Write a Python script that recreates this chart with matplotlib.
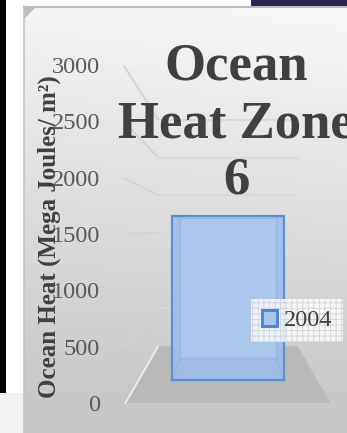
import matplotlib
matplotlib.use("Agg")
import matplotlib.pyplot as plt
import numpy as np
from matplotlib.patches import Polygon, Rectangle, Patch

# ---- data ----
years = ["2004"]
heat = [1680]
ticks = [0, 500, 1000, 1500, 2000, 2500, 3000]
title_lines = ["Ocean", "Heat Zone", "6"]
ylabel = "Ocean Heat (Mega Joules/ m²)"

SERIF = ["Liberation Serif", "DejaVu Serif"]
plt.rcParams["hatch.linewidth"] = 0.7
W, H = 347, 433
DPI = 100
fig = plt.figure(figsize=(W / DPI, H / DPI), dpi=DPI)
fig.patch.set_facecolor("white")


def fx(px):
    return px / W


def fy(py):
    return 1 - py / H


# ---- slide backdrop and chart panel (pixel coordinates) ----
bg = fig.add_axes([0, 0, 1, 1])
bg.axis("off")
gy = np.linspace(0, 1, 300)[:, None]
gx = np.linspace(0, 1, 300)[None, :]
shade = 0.955 - 0.185 * gy + 0.02 * gx * (1 - gy)
bg.imshow(np.dstack([shade] * 3), extent=(24, W, H, 6), aspect="auto",
          interpolation="bilinear")
bg.set_xlim(0, W)
bg.set_ylim(H, 0)
bg.add_patch(Rectangle((0, 0), 6, 393, color="black", lw=0))
bg.add_patch(Rectangle((251, 0), 96, 6, color="#26264f", lw=0))
bg.add_patch(Rectangle((0, 393), 24, 40, color="#f1f1f1", lw=0))
bg.plot([24, W], [6.5, 6.5], color="#bdbdbd", lw=1.5)
bg.plot([24.5, 24.5], [6, H], color="#c4c4c4", lw=1.2)
bg.add_patch(Polygon([(24, 6), (37, 6), (24, 19)], closed=True,
                     color="#bdbdbd", lw=0))

# ---- chart axes: y in value units on the front plane ----
TOP, BOT, LEFT = 40, 420, 110
K0 = 338 / 3000  # pixels per unit at the front edge
ax = fig.add_axes([fx(LEFT), fy(BOT), fx(W) - fx(LEFT), (BOT - TOP) / H])
ax.set_xlim(LEFT, W)
ax.set_ylim((403 - BOT) / K0, (403 - TOP) / K0)
ax.patch.set_alpha(0)
for sp in ax.spines.values():
    sp.set_visible(False)
ax.set_xticks([])
ax.set_yticks(ticks)
ax.set_yticklabels([str(t) for t in ticks], family=SERIF)
ax.tick_params(axis="y", length=0, pad=7.2, labelsize=17.5,
               labelcolor="#595959")


def proj(u, v, t):
    """Map (horizontal offset, value, depth 0..1) to axes data coords."""
    s = 1 - 0.32 * t
    px = 228 + u * s
    py = 403 - 57 * t - v * K0 * (1 - 0.331 * t)
    return px, (403 - py) / K0


HALF = 102.5
floor = [proj(-HALF, 0, 0), proj(HALF, 0, 0), proj(HALF, 0, 1), proj(-HALF, 0, 1)]
ax.add_patch(Polygon(floor, closed=True, facecolor="#b9b9b9", edgecolor="none"))
ax.plot(*zip(proj(-HALF, 0, 0), proj(-HALF, 0, 1)), color="#eeeeee", lw=1.3)

# gridlines on side wall and back wall
for v in ticks[1:]:
    a = proj(-HALF - 2, v, 0)
    b = proj(-HALF, v, 1)
    c = proj(HALF, v, 1)
    ax.plot([a[0], b[0]], [a[1], b[1]], color="#d4d4d4", lw=1.4,
            solid_capstyle="butt")
    ax.plot([b[0], c[0]], [b[1], c[1]], color="#d9d9d9", lw=1.4,
            solid_capstyle="butt")

# translucent 3-D column
BW = 64
T_FRONT, T_BACK = 0.4, 0.79
for val in heat:
    fb = [proj(-BW, 0, T_FRONT), proj(BW, 0, T_FRONT),
          proj(BW, val, T_FRONT), proj(-BW, val, T_FRONT)]
    bb = [proj(-BW, 0, T_BACK), proj(BW, 0, T_BACK),
          proj(BW, val, T_BACK), proj(-BW, val, T_BACK)]
    ax.add_patch(Polygon(fb, closed=True, facecolor="#9fbde6", alpha=0.92,
                         edgecolor="none", zorder=3))
    ax.add_patch(Polygon(bb, closed=True, facecolor="#adc9ed", alpha=0.9,
                         edgecolor="#93b5e2", lw=1.0, zorder=3))
    for p, q in zip(fb, bb):
        ax.plot([p[0], q[0]], [p[1], q[1]], color="#93b5e2", lw=1.0, zorder=3)
    ax.add_patch(Polygon(fb, closed=True, facecolor="none",
                         edgecolor="#5b8fd6", lw=1.6, zorder=4))

# legend
handle = Patch(facecolor="#a9c5ea", edgecolor="#4f86d0", lw=2.2, label=years[0])
leg = ax.legend(handles=[handle], loc="center",
                bbox_to_anchor=(fx(297), fy(320.5)),
                bbox_transform=fig.transFigure, fancybox=False,
                prop={"family": SERIF, "size": 17.5}, handlelength=0.62,
                handleheight=0.62, handletextpad=0.25, borderpad=0.45,
                borderaxespad=0)
for txt in leg.get_texts():
    txt.set_color("#404040")
fr = leg.get_frame()
fr.set_facecolor((1, 1, 1, 0.3))
fr.set_edgecolor("#cfcfcf")
fr.set_linewidth(0)
fr.set_hatch("+++")
leg.set_zorder(6)

# title
for line, base in zip(title_lines, [80, 137, 193]):
    fig.text(fx(236), fy(base), line, ha="center", va="baseline",
             fontsize=38, weight="bold", family=SERIF, color="#404040")

# axis title
ax.set_ylabel(ylabel, fontsize=18, weight="bold", family=SERIF,
              color="#404040")
ax.yaxis.set_label_coords(-0.205, 0.482)

fig.savefig("out.png", dpi=DPI)
